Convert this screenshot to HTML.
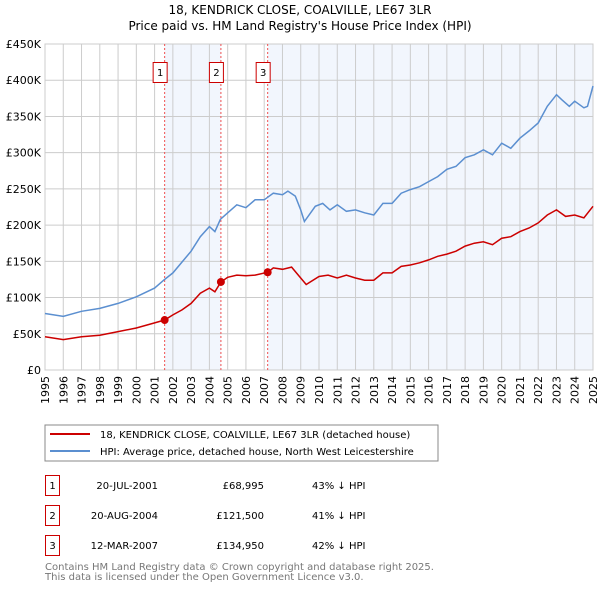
<!DOCTYPE html>
<html><head><meta charset="utf-8"><style>
body{margin:0;background:#fff;width:600px;height:590px;overflow:hidden;font-family:"Liberation Sans","DejaVu Sans",sans-serif}
svg text{font-family:"DejaVu Sans","Liberation Sans",sans-serif}
</style></head><body>
<svg id="c" width="600" height="590" xmlns="http://www.w3.org/2000/svg">
<text x="300" y="14" text-anchor="middle" font-size="12" fill="#000">18, KENDRICK CLOSE, COALVILLE, LE67 3LR</text>
<text x="300" y="30" text-anchor="middle" font-size="12" fill="#000">Price paid vs. HM Land Registry's House Price Index (HPI)</text>
<g id="plot"></g>
<rect x="45" y="425" width="393" height="36" fill="#fff" stroke="#888"/>
<line x1="50" y1="434" x2="90" y2="434" stroke="#cc0000" stroke-width="2"/>
<text x="100" y="438" font-size="10">18, KENDRICK CLOSE, COALVILLE, LE67 3LR (detached house)</text>
<line x1="50" y1="451" x2="90" y2="451" stroke="#5b8fd0" stroke-width="2"/>
<text x="100" y="455" font-size="10">HPI: Average price, detached house, North West Leicestershire</text>
<g font-size="10" fill="#000">
<rect x="45.5" y="475.5" width="14" height="20" fill="none" stroke="#cc0000"/><text x="52.5" y="489" text-anchor="middle">1</text>
<text x="158" y="489" text-anchor="end">20-JUL-2001</text><text x="264" y="489" text-anchor="end">£68,995</text><text x="312" y="489">43% ↓ HPI</text>
<rect x="45.5" y="505.5" width="14" height="20" fill="none" stroke="#cc0000"/><text x="52.5" y="519" text-anchor="middle">2</text>
<text x="158" y="519" text-anchor="end">20-AUG-2004</text><text x="264" y="519" text-anchor="end">£121,500</text><text x="312" y="519">41% ↓ HPI</text>
<rect x="45.5" y="535.5" width="14" height="20" fill="none" stroke="#cc0000"/><text x="52.5" y="549" text-anchor="middle">3</text>
<text x="158" y="549" text-anchor="end">12-MAR-2007</text><text x="264" y="549" text-anchor="end">£134,950</text><text x="312" y="549">42% ↓ HPI</text>
</g>
<text x="45" y="570" font-size="10" fill="#777">Contains HM Land Registry data © Crown copyright and database right 2025.</text>
<text x="45" y="580" font-size="10" fill="#777">This data is licensed under the Open Government Licence v3.0.</text>
</svg>
<script>
const hpiYears=[1995,1996,1997,1998,1999,2000,2001,2001.5,2002,2003,2003.5,2004,2004.3,2004.6,2005,2005.5,2006,2006.5,2007,2007.5,2008,2008.3,2008.7,2009,2009.2,2009.8,2010.2,2010.6,2011,2011.5,2012,2012.5,2013,2013.5,2014,2014.5,2015,2015.5,2016,2016.5,2017,2017.5,2018,2018.5,2019,2019.5,2020,2020.5,2021,2021.5,2022,2022.5,2023,2023.3,2023.7,2024,2024.5,2024.7,2025];
const hpiValues=[78,74,81,85,92,101,113,124,134,164,184,198,191,208,217,228,224,235,235,244,242,247,240,221,205,226,230,221,228,219,221,217,214,230,230,244,249,253,260,267,277,281,293,297,304,297,313,306,320,330,341,364,380,373,364,371,362,364,392];
const ppYears=[1995,1996,1997,1998,1999,2000,2001,2001.55,2002,2002.5,2003,2003.5,2004,2004.3,2004.63,2005,2005.5,2006,2006.5,2007.2,2007.5,2008,2008.5,2009,2009.3,2010,2010.5,2011,2011.5,2012,2012.5,2013,2013.5,2014,2014.5,2015,2015.5,2016,2016.5,2017,2017.5,2018,2018.5,2019,2019.5,2020,2020.5,2021,2021.5,2022,2022.5,2023,2023.5,2024,2024.5,2025];
const ppValues=[46,42,46,48,53,58,65,69,76,83,92,106,113,108,121.5,128,131,130,131,135,141,139,142,127,118,129,131,127,131,127,124,124,134,134,143,145,148,152,157,160,164,171,175,177,173,182,184,191,196,203,214,221,212,214,210,226];
const saleYears=[2001.55,2004.63,2007.19];
const saleValues=[68.995,121.5,134.95];
const saleLabels=["1","2","3"];
const yTicks=[0,50,100,150,200,250,300,350,400,450];
const yTickLabels=["£0","£50K","£100K","£150K","£200K","£250K","£300K","£350K","£400K","£450K"];
const xTicks=[1995,1996,1997,1998,1999,2000,2001,2002,2003,2004,2005,2006,2007,2008,2009,2010,2011,2012,2013,2014,2015,2016,2017,2018,2019,2020,2021,2022,2023,2024,2025];

const L=45,R=593,T=44,B=370;
const X=y=>L+(y-1995)/30*(R-L);
const Y=v=>B-v/450*(B-T);
const NS="http://www.w3.org/2000/svg";
const g=document.getElementById('plot');
function mk(t,a){const e=document.createElementNS(NS,t);for(const k in a)e.setAttribute(k,a[k]);g.appendChild(e);return e;}
let e=mk('rect',{x:X(saleYears[0]),y:T,width:X(saleYears[1])-X(saleYears[0]),height:B-T,fill:'#eef3fc',opacity:0.75});


e=mk('rect',{x:X(saleYears[2]),y:T,width:R-X(saleYears[2]),height:B-T,fill:'#eef3fc',opacity:0.75});


yTicks.forEach((v,i)=>{
 let l=mk('line',{x1:L,x2:R,y1:Y(v),y2:Y(v),stroke:'#ccc'});
 
 
 let t=mk('text',{x:L-4,y:Y(v)+4,'text-anchor':'end','font-size':11});
 t.textContent=yTickLabels[i];
 
 
});
xTicks.forEach(yr=>{
 let l=mk('line',{x1:X(yr),x2:X(yr),y1:T,y2:B,stroke:'#ccc'});
 
 
 let t=mk('text',{x:0,y:0,'font-size':11,'text-anchor':'end',transform:`translate(${X(yr)+4},${B+6}) rotate(-90)`});
 t.textContent=yr;
 
 
});
e=mk('rect',{x:L,y:T,width:R-L,height:B-T,fill:'none',stroke:'#ccc'});


saleYears.forEach((yr,i)=>{
 let l=mk('line',{x1:X(yr),x2:X(yr),y1:T,y2:B,stroke:'#f05050','stroke-dasharray':'2,2'});
 
 
 let r=mk('rect',{x:X(yr)-11.5,y:62.5,width:14,height:20,fill:'#fff',stroke:'#cc0000'});
 
 
 let t=mk('text',{x:X(yr)-4.5,y:76,'text-anchor':'middle','font-size':10});
 t.textContent=saleLabels[i];
 
 
});
const pts=(xs,vs)=>xs.map((x,i)=>X(x).toFixed(1)+','+Y(vs[i]).toFixed(1)).join(' ');
e=mk('polyline',{points:pts(hpiYears,hpiValues),fill:'none',stroke:'#5b8fd0','stroke-width':1.5});


e=mk('polyline',{points:pts(ppYears,ppValues),fill:'none',stroke:'#cc0000','stroke-width':1.5});


saleYears.forEach((yr,i)=>{
 let c=mk('circle',{cx:X(yr),cy:Y(saleValues[i]),r:4,fill:'#cc0000'});
 
 
});
</script>
</body></html>
